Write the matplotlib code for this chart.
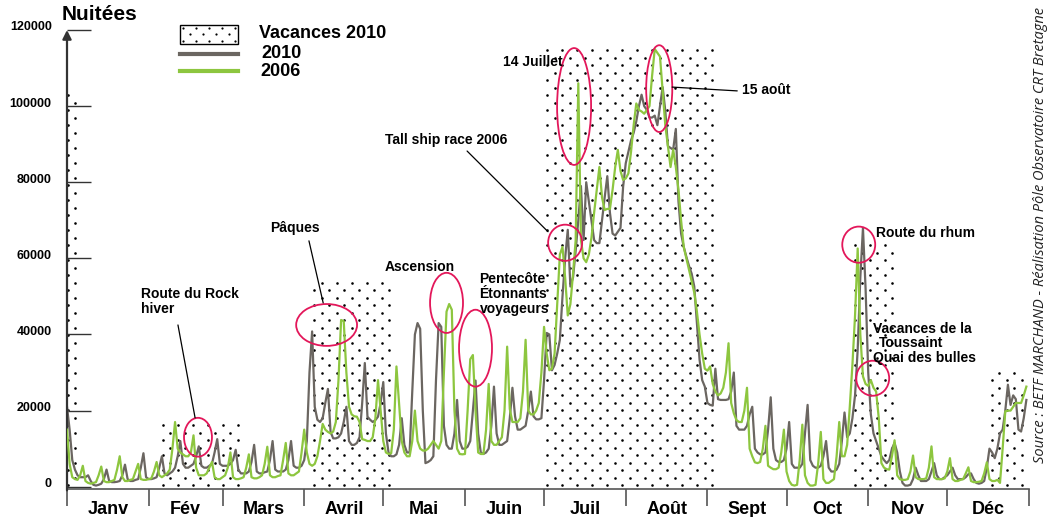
import numpy as np
import matplotlib.pyplot as plt
import matplotlib.transforms as mtransforms
from matplotlib.patches import Ellipse, Rectangle
from matplotlib.lines import Line2D

plt.rcParams['font.family'] = ['Liberation Sans', 'DejaVu Sans']

months = ["Janv", "Fév", "Mars", "Avril", "Mai", "Juin",
          "Juil", "Août", "Sept", "Oct", "Nov", "Déc"]
month_len = [31, 28, 31, 30, 31, 30, 31, 31, 30, 31, 30, 31]

# nuitées per day, in thousands
n2006 = [
    15, 6, 2.5, 2, 1.8, 3, 5.5, 1.5, 1, 0.8, 1, 1.2, 3, 5.3, 1.5, 1.2, 1.2, 1.5, 1.8, 4.5, 8, 2.5, 1.5, 1.5, 1.8, 2, 4, 6, 2, 1.8, 1.8,
    2, 2.2, 4, 6.5, 3, 2.5, 3, 3.5, 4.5, 10, 17, 10, 9, 8.5, 8, 8, 9, 13.5, 5, 3, 3, 3, 3.5, 5, 6.5, 2.5, 2, 2,
    2.5, 3, 5, 9, 2.5, 2, 2, 2.2, 2.5, 5, 8.5, 2.5, 2.2, 2.2, 2.5, 3, 6, 10.5, 3, 2.5, 2.5, 2.8, 3, 7, 11.5, 3.5, 3, 3, 3.5, 4, 9,
    15, 9, 6, 5.5, 6, 8, 12, 16.5, 15, 14.4, 14, 14.5, 17, 28, 43.8, 43.5, 30, 21, 19, 18.5, 18.4, 17, 12.5, 12.3, 12, 12, 13, 18, 28, 20,
    12, 9, 8.6, 8.8, 15, 31.6, 22, 12, 9, 8, 8, 12, 20, 12, 10, 9.5, 9.5, 10, 11, 12, 11, 10, 12, 30, 46, 48, 46.5, 20, 10, 8.6, 8.5,
    8.6, 20, 33.5, 34.6, 20, 9, 8.6, 8.6, 15, 27, 12, 11, 11, 12, 13, 20, 36.8, 20.4, 17, 17, 17, 18, 25, 38.6, 20, 19, 19, 20, 22, 30,
    42, 35, 30.6, 31, 35, 48, 61, 63, 55, 45, 48, 56, 64.8, 106, 64.8, 60, 59, 61, 65.5, 72, 78, 84, 76, 72.7, 73, 73, 78, 84, 88.5, 83, 80.6,
    81, 82.3, 88, 95, 100.7, 99, 98.6, 98, 99, 100, 108, 115, 114, 113, 104, 95, 89.5, 84, 88.6, 84, 78, 70, 63, 60, 57, 54, 51, 46, 40, 35, 31,
    30.5, 31.6, 27, 25, 24, 24.5, 26, 30, 37.7, 22, 19.3, 17.5, 17, 17, 20, 26, 10, 8, 6.4, 6.2, 6.5, 10, 16, 5.5, 5, 4.6, 4.6, 5, 9, 15,
    4, 1.5, 0.5, 0.3, 0.5, 7, 16.3, 3, 1, 0.3, 0.3, 0.5, 6, 14.4, 2, 1, 1, 1.5, 2, 8, 17, 8, 8, 11, 21, 32, 45, 62.6, 40, 29, 27,
    26.5, 28, 26, 25, 18, 6.2, 5, 4.6, 4.5, 8, 12.2, 3, 2, 1.8, 1.8, 2, 4, 8.2, 2.5, 2, 2, 2, 2.2, 5, 10.6, 2.5, 2, 2, 2, 2.2,
    4, 7.5, 2, 1.5, 1.5, 1.8, 2, 3.5, 5.1, 1.5, 1.2, 1.2, 1.3, 1.5, 3.5, 6.4, 2, 1.5, 1.5, 1.8, 1, 10, 19.8, 20, 20, 21, 22, 22, 22, 24, 26.3,
]
n2010 = [
    21, 15, 7, 4.5, 3, 2.5, 2.5, 2.5, 3, 1.5, 0.5, 0.3, 0.5, 0.8, 2, 4.5, 1.5, 1.2, 1.2, 1.3, 1.5, 3, 5.8, 2, 1.5, 1.5, 1.8, 2, 5, 8.8, 2.5,
    2, 2, 2.2, 2.5, 5, 8, 3.5, 3, 3.5, 4, 5, 8, 12, 6, 5, 5, 5.5, 6, 8, 10.6, 5.5, 5, 5, 5.5, 6, 9, 12.5, 6,
    5.5, 5.5, 5.5, 6, 7, 9.7, 4.5, 3.5, 3.5, 3.5, 4, 6.5, 11, 4, 3.5, 3.5, 3.8, 4, 7, 12, 4.5, 4, 4, 4, 4.5, 7, 12, 5.5, 5, 5, 5.5,
    7, 12, 30, 40.8, 21, 17.6, 17, 18, 22, 25.7, 14.4, 12.7, 12.7, 13, 14, 17, 21, 12, 11, 11, 11.5, 13, 22, 32.5, 18.4, 17.6, 17, 17.5, 18.4, 22,
    27.5, 14, 9, 8, 8, 8.5, 11, 18, 11, 9, 9, 25, 40, 43, 41.5, 20, 6.2, 6.5, 7, 8, 28, 43, 42, 16, 11, 10, 10, 14, 22.8, 12, 10,
    10, 10.5, 12, 20, 27.9, 14, 9, 8.6, 9, 10, 16, 26.3, 14, 11, 11, 11.5, 12, 18, 26, 18.5, 15, 15, 15.5, 16, 20, 25, 18.5, 17.7, 17.7, 18,
    28, 40.4, 40, 30.6, 32, 35, 38.6, 50, 60, 67.5, 52.6, 55, 62, 70, 79, 64.8, 80, 75, 70, 64.8, 64, 64, 70, 76, 81.6, 72, 66.5, 66, 67, 68, 78.8,
    85, 88, 91, 93, 96, 100, 103, 100, 99, 97, 97, 97.5, 95, 100, 105, 98.8, 89.5, 89, 88.6, 94, 75, 66.5, 63, 60.4, 58, 56, 52.6, 43, 33.4, 28, 26.3,
    22, 21.5, 21.3, 31, 23, 22.8, 22.8, 22.8, 23, 25, 30, 16, 15, 15, 15, 16, 19, 21, 10, 9, 8.5, 8.5, 9, 15, 23.5, 10, 7, 6.5, 6.5, 7,
    10, 17, 6, 5, 5, 5, 6, 14, 21.5, 7, 5.5, 5, 5, 5.5, 8, 12, 5, 4, 4, 4.5, 6, 12, 19.5, 13, 14, 18, 24, 36, 55, 68, 52,
    30, 19, 14, 12, 10, 8, 7, 6.2, 7, 10, 11.5, 9, 4, 1, 0.3, 0.3, 0.5, 2, 5, 3, 1.5, 1.5, 1.5, 2, 4, 6.2, 3, 2, 2, 2.5,
    3, 4, 5, 3, 2, 2, 2, 2.5, 3.3, 3.5, 2, 1, 0.8, 1, 1.5, 5, 10, 9, 7.5, 10, 14, 15, 20, 26.8, 21.5, 24, 23, 15, 14.5, 18, 22.8,
]

# school holidays 2010: start day, end day, height of the dotted block (thousands)
vac_start = [0, 36, 93.5, 182, 298.5, 350.5]
vac_end = [3.5, 65, 123.5, 245, 313.5, 365]
vac_top = [104, 18, 54, 115.5, 65, 30]

# events: label, text position (day, k nuitées), circle (day, k, width days, height k)
ev_labels = ["Route du Rock\nhiver", "Pâques", "Ascension", "Pentecôte\nÉtonnants\nvoyageurs",
             "Tall ship race 2006", "14 Juillet", "15 août", "Route du rhum",
             "Vacances de la", "Toussaint", "Quai des bulles"]
ev_text = [(28.1, 48.7), (77, 68), (120.7, 57.8), (156.5, 50.6), (120.7, 91.1), (165.5, 111.6),
           (256.0, 104.3), (307, 66.7), (305.9, 41.5), (308.2, 37.8), (305.9, 33.9)]
circles = [(49.7, 13.0, 10.6, 10.2), (98.5, 42.5, 23.1, 11.0), (144.0, 48.3, 12.5, 15.8),
           (155.0, 36.4, 12.5, 20.2), (189.0, 64.1, 12.9, 9.5), (192.4, 99.9, 12.9, 30.7),
           (224.7, 104.6, 9.9, 22.8), (300.4, 63.6, 12.5, 9.5), (305.7, 28.5, 12.5, 9.2)]
leaders = [((42.1, 42.5), (48.6, 18.1)), ((91.8, 64.6), (97.2, 48.3)),
           ((151.8, 88.2), (182.5, 67.0)), ((229.6, 105.0), (254.3, 104.0))]

GRAY = "#6b6661"
GREEN = "#8dc63f"
RED = "#e3175a"


def dot_grid(x0, x1, y0, y1, dx, dy, phase):
    # staggered dot pattern filling a box
    px, py = [], []
    for j, yv in enumerate(np.arange(y0 + dy / 2, y1, dy)):
        xs = np.arange(x0 + phase + (j % 2) * dx / 2, x1, dx)
        px.extend(xs)
        py.extend([yv] * len(xs))
    return np.array(px), np.array(py)


fig = plt.figure(figsize=(10.52, 5.17), dpi=100)
ax = fig.add_axes([67 / 1052, (517 - 489) / 517, 962 / 1052, (489 - 30) / 517])

days = np.arange(365)
ax.set_xlim(0, 365)
ax.set_ylim(-600, 120000)

# dotted holiday blocks: 15 px between dots of a row, rows 7.5 px apart
dx_day = 15 / (962 / 365)
dy_val = 7.5 / (459 / 120600)
for s, e, t in zip(vac_start, vac_end, vac_top):
    px, py = dot_grid(s, e, -600, t * 1000, dx_day, dy_val, 0.3)
    ax.scatter(px, py, s=3.5, color="black", linewidths=0, zorder=1)

ax.plot(days, np.array(n2010) * 1000, color=GRAY, lw=1.6, zorder=3)
ax.plot(days, np.array(n2006) * 1000, color=GREEN, lw=1.6, zorder=4)

# annotations
for lab, (tx, ty) in zip(ev_labels, ev_text):
    ax.text(tx, ty * 1000, lab, fontsize=10, fontweight="bold", ha="left", va="center",
            linespacing=1.1, zorder=6)
for cx, cy, w, h in circles:
    ax.add_patch(Ellipse((cx, cy * 1000), w, h * 1000, facecolor="none",
                         edgecolor=RED, lw=1.3, zorder=5))
for (x0, y0), (x1, y1) in leaders:
    ax.annotate("", xy=(x1, y1 * 1000), xytext=(x0, y0 * 1000),
                arrowprops=dict(arrowstyle="-", color="black", lw=0.9,
                                shrinkA=0, shrinkB=0), zorder=6)

# axes styling
for side in ["top", "right", "left"]:
    ax.spines[side].set_visible(False)
ax.spines["bottom"].set_color("#555555")
ax.spines["bottom"].set_linewidth(1.2)

bounds = np.concatenate([[0], np.cumsum(month_len)])
mids = (bounds[:-1] + bounds[1:]) / 2
ax.set_xticks(bounds)
ax.set_xticklabels([])
ax.set_xticks(mids, minor=True)
ax.set_xticklabels(months, minor=True, fontsize=13, fontweight="bold")
ax.tick_params(axis="x", which="major", direction="out", length=12, width=1.2, color="#555555")
ax.tick_params(axis="x", which="minor", length=0, pad=9)

yt = np.arange(0, 120001, 20000)
ax.set_yticks(yt)
ax.set_yticklabels([str(v) for v in yt], fontsize=9, fontweight="bold")
ax.tick_params(axis="y", direction="in", length=17, width=1.0, color="#333333", pad=11)
shift = mtransforms.ScaledTranslation(0, 4 / 100, fig.dpi_scale_trans)
for lbl in ax.get_yticklabels():
    lbl.set_transform(lbl.get_transform() + shift)

ax.annotate("", xy=(0, 1.0), xytext=(0, -0.003), xycoords="axes fraction",
            textcoords="axes fraction",
            arrowprops=dict(arrowstyle="-|>", color="#333333", lw=1.6,
                            mutation_scale=13, shrinkA=0, shrinkB=0),
            annotation_clip=False)

fig.text(62 / 1052, (517 - 20.5) / 517, "Nuitées", fontsize=15, fontweight="bold",
         ha="left", va="baseline")

# legend drawn by hand (figure pixel coordinates converted to fractions)
fig.add_artist(Rectangle((180 / 1052, (517 - 44) / 517), 58 / 1052, 19 / 517,
                         transform=fig.transFigure, facecolor="white",
                         edgecolor="black", lw=1.0))
lx, ly = dot_grid(180, 238, 25, 44, 13, 6.3, 3)
fig.add_artist(Line2D(lx / 1052, (517 - ly) / 517, transform=fig.transFigure,
                      ls="none", marker="o", ms=1.6, mew=0, color="black"))
fig.add_artist(Line2D([180 / 1052, 238 / 1052], [(517 - 54) / 517] * 2,
                      transform=fig.transFigure, color=GRAY, lw=3))
fig.add_artist(Line2D([180 / 1052, 238 / 1052], [(517 - 71) / 517] * 2,
                      transform=fig.transFigure, color=GREEN, lw=3))
fig.text(259 / 1052, (517 - 33) / 517, "Vacances 2010", fontsize=13, fontweight="bold", va="center")
fig.text(261 / 1052, (517 - 53) / 517, "2010", fontsize=13, fontweight="bold", va="center")
fig.text(260 / 1052, (517 - 71) / 517, "2006", fontsize=13, fontweight="bold", va="center")

fig.text(1040 / 1052, (517 - 235) / 517,
         "Source : BETF MARCHAND - Réalisation Pôle Observatoire CRT Bretagne",
         rotation=90, ha="center", va="center", fontsize=10.5, style="italic",
         family=["Open Sans", "DejaVu Sans"], color="#222222")

fig.savefig("out.png", dpi=100)
